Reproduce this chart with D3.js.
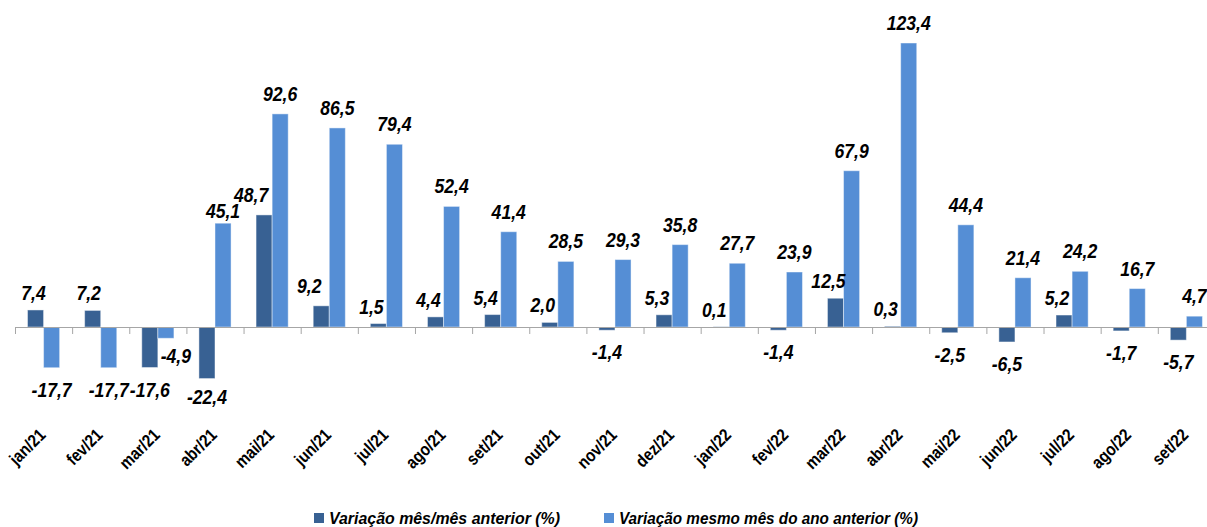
<!DOCTYPE html>
<html>
<head>
<meta charset="utf-8">
<script src="https://cdn.jsdelivr.net/npm/d3@7"></script>
<style>
  body { margin: 0; background: #fff; }
  svg { display: block; }
</style>
</head>
<body>
<div id="chart"></div>
<script>
"use strict"

var categories = ["jan/21","fev/21","mar/21","abr/21","mai/21","jun/21","jul/21","ago/21","set/21","out/21","nov/21","dez/21",
                  "jan/22","fev/22","mar/22","abr/22","mai/22","jun/22","jul/22","ago/22","set/22"];
var momValues = [7.4, 7.2, -17.6, -22.4, 48.7, 9.2, 1.5, 4.4, 5.4, 2.0, -1.4, 5.3, 0.1, -1.4, 12.5, 0.3, -2.5, -6.5, 5.2, -1.7, -5.7];
var yoyValues = [-17.7, -17.7, -4.9, 45.1, 92.6, 86.5, 79.4, 52.4, 41.4, 28.5, 29.3, 35.8, 27.7, 23.9, 67.9, 123.4, 44.4, 21.4, 24.2, 16.7, 4.7];
var seriesNames = ["Variação mês/mês anterior (%)", "Variação mesmo mês do ano anterior (%)"];

var width = 1207, height = 527,
    zeroY = 327, unit = 2.3015,
    colors = ["#386193", "#558ed5"],
    labelFont = "'Liberation Sans', Arial, sans-serif";

// hand placed labels in the original, [dx, dy] per "series-index"
var labelNudge = {
  "0-0": [-2, 0], "0-1": [-4, 0], "0-4": [-13, -3], "0-5": [-12, -3],
  "1-2": [10, -4], "0-3": [0, -4], "1-3": [0, 8]
};

var svg = d3.select("#chart").append("svg")
    .attr("width", width)
    .attr("height", height);

var x = d3.scaleBand()
    .domain(categories)
    .range([15, 15 + 21 * 57.14]);

var xInner = d3.scaleBand()
    .domain([0, 1])
    .range([12.5, x.bandwidth() - 12.5]);

var y = d3.scaleLinear()
    .domain([-40, 130])
    .range([zeroY + 40 * unit, zeroY - 130 * unit]);

var rows = categories.map(function(c, i){
  return { cat: c, i: i, vals: [momValues[i], yoyValues[i]] };
});

var groups = svg.append("g").selectAll("g")
    .data(rows)
    .enter().append("g")
    .attr("transform", function(d){ return "translate(" + x(d.cat) + ",0)"; });

groups.selectAll("rect")
    .data(function(d){ return d.vals.map(function(v, s){ return { v: v, s: s }; }); })
    .enter().append("rect")
    .attr("x", function(d){ return xInner(d.s); })
    .attr("width", xInner.bandwidth())
    .attr("y", function(d){ return Math.min(y(d.v), y(0)); })
    .attr("height", function(d){ return Math.abs(y(d.v) - y(0)); })
    .attr("fill", function(d){ return colors[d.s]; })
    .attr("stroke", "rgba(255,255,255,0.45)")
    .attr("stroke-width", 1);

// axis line and ticks
var axis = d3.axisBottom(x).tickSize(0).tickFormat("");
svg.append("g")
    .attr("transform", "translate(0," + y(0) + ")")
    .call(axis)
    .call(function(g){
      g.select(".domain").attr("stroke", "#a6a6a6").attr("d", "M15,0.5H" + width);
    });

svg.append("g").selectAll("line")
    .data(categories)
    .enter().append("line")
    .attr("x1", function(d){ return x(d) + 0.5; })
    .attr("x2", function(d){ return x(d) + 0.5; })
    .attr("y1", y(0))
    .attr("y2", y(0) + 7)
    .attr("stroke", "#a6a6a6");

// data labels
var labels = [];
rows.forEach(function(r){
  r.vals.forEach(function(v, s){ labels.push({ v: v, s: s, i: r.i, cat: r.cat }); });
});

svg.append("g").selectAll("text")
    .data(labels)
    .enter().append("text")
    .attr("transform", function(d){
      var nx = labelNudge[d.s + "-" + d.i];
      var dx = nx ? nx[0] : (d.s === 0 && d.v > 0 ? -7 : 0);
      var dy = nx ? nx[1] : 0;
      var tx = x(d.cat) + xInner(d.s) + xInner.bandwidth() / 2 + dx;
      var ty = d.v >= 0 ? y(d.v) - (d.s === 0 ? 10 : 13) + dy : y(d.v) + 29 + dy;
      return "translate(" + tx + "," + ty + ") scale(0.88,1)";
    })
    .attr("text-anchor", "middle")
    .style("font-family", labelFont)
    .style("font-weight", "bold")
    .style("font-style", "italic")
    .style("font-size", "20px")
    .text(function(d){ return d.v.toFixed(1).replace(".", ","); });

// category labels
svg.append("g").selectAll("text")
    .data(categories)
    .enter().append("text")
    .attr("transform", function(d){
      return "translate(" + (x(d) + x.bandwidth() / 2 + 3) + ",436) rotate(-45) scale(0.86,1)";
    })
    .attr("text-anchor", "end")
    .style("font-family", labelFont)
    .style("font-weight", "bold")
    .style("font-size", "17.5px")
    .text(function(d){ return d; });

// legend
var legendX = [314, 604], legendTextEnd = [560, 918];
var legend = svg.append("g").selectAll("g")
    .data(seriesNames)
    .enter().append("g")
    .attr("transform", function(d, i){ return "translate(" + legendX[i] + ",513)"; });

legend.append("rect")
    .attr("width", 10)
    .attr("height", 10)
    .attr("fill", function(d, i){ return colors[i]; });

legend.append("text")
    .attr("x", 15)
    .attr("y", 11)
    .style("font-family", labelFont)
    .style("font-weight", "bold")
    .style("font-style", "italic")
    .style("font-size", "17px")
    .attr("textLength", function(d, i){ return legendTextEnd[i] - legendX[i] - 15; })
    .attr("lengthAdjust", "spacingAndGlyphs")
    .text(function(d){ return d; });
</script>
</body>
</html>
